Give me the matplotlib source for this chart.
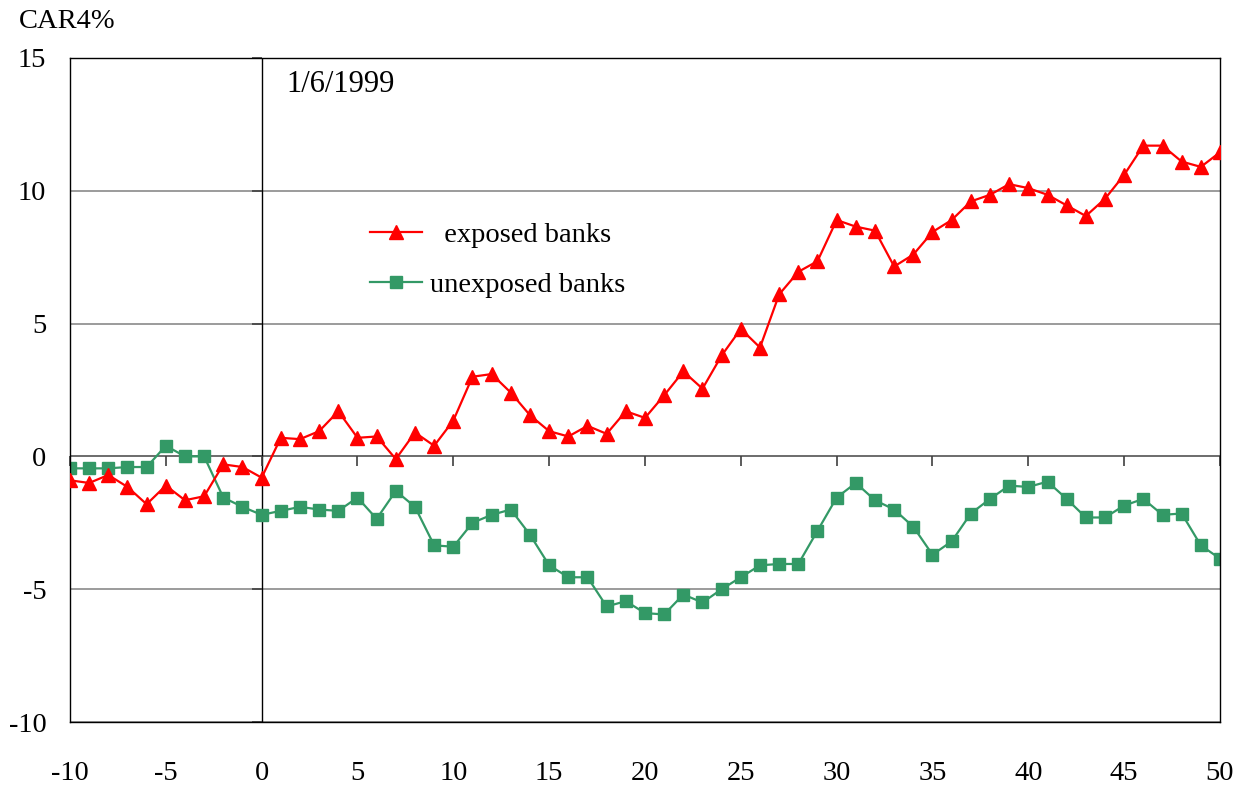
#!/usr/bin/env python3
"""CAR4% of exposed vs unexposed banks around 1/6/1999."""
import matplotlib
matplotlib.use("Agg")
import matplotlib.pyplot as plt
import numpy as np

days = list(range(-10, 51))
exposed = [
    -0.9, -1.0, -0.7, -1.15, -1.8, -1.1, -1.65, -1.5, -0.3, -0.4,
    -0.8, 0.7, 0.65, 0.95, 1.7, 0.7, 0.75, -0.1, 0.9, 0.4,
    1.35, 3.0, 3.1, 2.4, 1.55, 0.95, 0.75, 1.15, 0.85, 1.7,
    1.45, 2.3, 3.2, 2.55, 3.8, 4.8, 4.1, 6.1, 6.95, 7.35,
    8.9, 8.65, 8.5, 7.15, 7.6, 8.45, 8.9, 9.6, 9.85, 10.25,
    10.1, 9.85, 9.45, 9.05, 9.7, 10.6, 11.7, 11.7, 11.1, 10.9,
    11.45,
]
unexposed = [
    -0.45, -0.45, -0.45, -0.4, -0.4, 0.4, 0.0, 0.0, -1.55, -1.9,
    -2.2, -2.05, -1.9, -2.0, -2.05, -1.55, -2.35, -1.3, -1.9, -3.35,
    -3.4, -2.5, -2.2, -2.0, -2.95, -4.1, -4.55, -4.55, -5.65, -5.45,
    -5.9, -5.95, -5.2, -5.5, -5.0, -4.55, -4.1, -4.05, -4.05, -2.8,
    -1.55, -1.0, -1.65, -2.0, -2.65, -3.7, -3.2, -2.15, -1.6, -1.1,
    -1.15, -0.95, -1.6, -2.3, -2.3, -1.85, -1.6, -2.2, -2.15, -3.35,
    -3.85,
]
xticks = list(range(-10, 51, 5))
yticks = list(range(-10, 16, 5))
event_label = "1/6/1999"

plt.rcParams["font.family"] = ["Liberation Serif", "DejaVu Serif"]
plt.rcParams["axes.unicode_minus"] = False
FS = 20.5

fig = plt.figure(figsize=(12.43, 7.89), dpi=100)
ax = fig.add_axes([0.0563, 0.0849, 0.9252, 0.8416])

# gridlines and zero axes
for y in yticks:
    if y != 0:
        ax.axhline(y, color="#808080", lw=1.1, zorder=0)
ax.axhline(0, color="#606060", lw=1.3, zorder=1)
ax.axvline(0, color="black", lw=1.0, zorder=1)

# tick marks drawn on the zero lines
ax.plot(xticks, np.zeros(len(xticks)), ls="none", marker=3, ms=7,
        mew=1.2, color="#404040", zorder=1, clip_on=False)
ax.plot(np.zeros(len(yticks)), yticks, ls="none", marker=0, ms=7,
        mew=1.2, color="#404040", zorder=1, clip_on=False)

ax.plot(days, exposed, color="#FF0000", lw=1.6, marker="^", ms=10,
        label="  exposed banks", zorder=3)
ax.plot(days, unexposed, color="#339966", lw=1.6, marker="s", ms=8.5,
        label="unexposed banks", zorder=2)

ax.set_xlim(-10, 50)
ax.set_ylim(-10, 15)
ax.set_xticks(xticks)
ax.set_yticks(yticks)
ax.tick_params(axis="x", length=0, pad=28, labelsize=FS)
ax.tick_params(axis="y", length=0, pad=17, labelsize=FS)
for s in ax.spines.values():
    s.set_color("black")
    s.set_linewidth(1.0)

ax.text(1.3, 14.0, event_label, fontsize=22, va="center", ha="left")
fig.text(0.015, 0.973, "CAR4%", fontsize=FS, va="center", ha="left")

ax.legend(loc="upper left", bbox_to_anchor=(0.239, 0.792), frameon=False,
          fontsize=FS, handlelength=1.8, labelspacing=0.85,
          handletextpad=0.3)

fig.savefig("out.png", dpi=100)
print("wrote out.png")
